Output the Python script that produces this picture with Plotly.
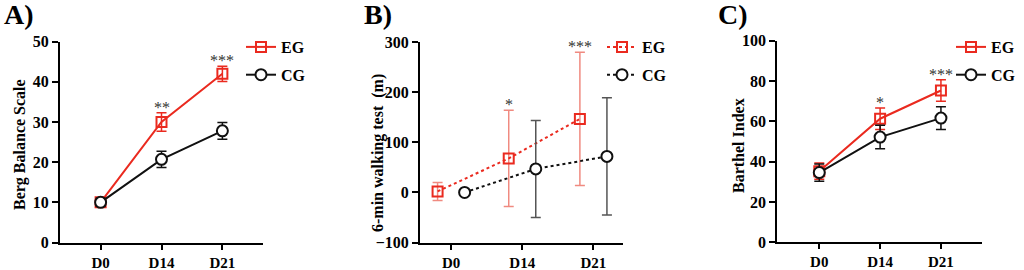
import plotly.graph_objects as go

categories = ["D0", "D14", "D21"]

# Panel A: Berg Balance Scale
bbs_eg = [10, 30, 42]
bbs_eg_err = [1.0, 2.3, 1.9]
bbs_cg = [10, 20.7, 27.8]
bbs_cg_err = [1.0, 2.0, 2.1]
bbs_sig = ["", "**", "***"]

# Panel B: 6-min walking test (m)
smwt_eg = [2, 68, 147]
smwt_eg_err = [18, 96, 133]
smwt_cg = [0, 47, 72]
smwt_cg_err = [0, 97, 117]
smwt_sig = ["", "*", "***"]

# Panel C: Barthel Index
bi_eg = [35.3, 61.3, 75.3]
bi_eg_err = [4.0, 5.3, 5.3]
bi_cg = [34.6, 52.2, 61.6]
bi_cg_err = [4.3, 5.8, 5.6]
bi_sig = ["", "*", "***"]

RED = "#EA2A1F"
RED_LIGHT = "#F08A80"
BLACK = "#111111"
GREY = "#555555"
FONT = "Liberation Serif"
W, H = 1024, 270

def px_x(a, b):
    return [a / W, b / W]

def px_y(top, bottom):
    return [(H - bottom) / H, (H - top) / H]

panels = [
    dict(name="A", eg=bbs_eg, ege=bbs_eg_err, cg=bbs_cg, cge=bbs_cg_err, sig=bbs_sig,
         dash="solid", egcol=RED, cgcol=BLACK, dodge=0.0,
         xd=px_x(60, 263), yd=px_y(41.7, 242.5), xr=[-0.667, 2.667], yr=[0, 50], dt=10,
         title="Berg Balance Scale", tpos=(20, 145), leg=(241, 30), letter=("A)", 2)),
    dict(name="B", eg=smwt_eg, ege=smwt_eg_err, cg=smwt_cg, cge=smwt_cg_err, sig=smwt_sig,
         dash="dot", egcol=RED_LIGHT, cgcol=GREY, dodge=0.19,
         xd=px_x(420, 623.3), yd=px_y(42.3, 242.5), xr=[-0.437, 2.42], yr=[-100, 300], dt=100,
         title="6-min walking test  (m)", tpos=(378, 153), leg=(602, 30), letter=("B)", 362)),
    dict(name="C", eg=bi_eg, ege=bi_eg_err, cg=bi_cg, cge=bi_cg_err, sig=bi_sig,
         dash="solid", egcol=RED, cgcol=BLACK, dodge=0.0,
         xd=px_x(777.3, 981.7), yd=px_y(40.7, 242.3), xr=[-0.69, 2.67], yr=[0, 100], dt=20,
         title="Barthel Index", tpos=(738, 146), leg=(951, 30), letter=("C)", 716)),
]

fig = go.Figure()
annotations = []
idx = list(range(len(categories)))
ytickfont = dict(family=FONT, size=16, color="black", weight="bold")
xtickfont = dict(family=FONT, size=15, color="black", weight="bold")

for i, p in enumerate(panels):
    n = "" if i == 0 else str(i + 1)
    xa, ya = "x" + n, "y" + n
    legname = "legend" + n
    x_eg = [k - p["dodge"] for k in idx]
    x_cg = [k + p["dodge"] for k in idx]
    fig.add_trace(go.Scatter(
        x=x_eg, y=p["eg"], xaxis=xa, yaxis=ya, name="EG", legend=legname, legendgroup=p["name"] + "eg",
        mode="lines+markers",
        line=dict(color=RED, width=2, dash=p["dash"]),
        marker=dict(symbol="square-open", size=10, color=RED, line=dict(width=2, color=RED)),
        error_y=dict(type="data", array=p["ege"], color=p["egcol"], thickness=1.5, width=5),
    ))
    fig.add_trace(go.Scatter(
        x=x_cg, y=p["cg"], xaxis=xa, yaxis=ya, name="CG", legend=legname, legendgroup=p["name"] + "cg",
        mode="lines+markers",
        line=dict(color=BLACK, width=2, dash=p["dash"]),
        marker=dict(symbol="circle", size=11, color="white", line=dict(width=2, color=BLACK)),
        error_y=dict(type="data", array=p["cge"], color=p["cgcol"], thickness=1.5, width=5),
    ))
    fig.update_layout(**{
        "xaxis" + n: dict(domain=p["xd"], range=p["xr"], tickvals=idx, ticktext=categories,
                          showline=True, linecolor="black", linewidth=2, ticks="outside",
                          ticklen=5, tickwidth=2, tickcolor="black", showgrid=False, zeroline=False,
                          anchor=ya, tickfont=xtickfont),
        "yaxis" + n: dict(domain=p["yd"], range=p["yr"], dtick=p["dt"],
                          showline=True, linecolor="black", linewidth=2, ticks="outside",
                          ticklen=6, tickwidth=2, tickcolor="black", showgrid=False, zeroline=False,
                          anchor=xa, tickfont=ytickfont),
        legname: dict(x=p["leg"][0] / W, y=(H - p["leg"][1]) / H, xanchor="left", yanchor="top",
                      bgcolor="rgba(0,0,0,0)", font=dict(family=FONT, size=16, color="black", weight="bold"),
                      tracegroupgap=4, itemwidth=30),
    })
    for k in idx:
        if p["sig"][k]:
            annotations.append(dict(
                x=x_eg[k], y=p["eg"][k] + p["ege"][k], xref=xa, yref=ya,
                text=p["sig"][k], showarrow=False, yanchor="bottom", yshift=-5,
                font=dict(family=FONT, size=16, color="#333333")))
    annotations.append(dict(
        x=p["letter"][1] / W, y=1.0, xref="paper", yref="paper", xanchor="left", yanchor="top",
        yshift=3, text=p["letter"][0], showarrow=False,
        font=dict(family=FONT, size=28, color="black", weight="bold")))
    annotations.append(dict(
        x=p["tpos"][0] / W, y=(H - p["tpos"][1]) / H, xref="paper", yref="paper",
        xanchor="center", yanchor="middle", textangle=-90, text=p["title"], showarrow=False,
        font=dict(family=FONT, size=16, color="black", weight="bold")))

fig.update_layout(
    width=W, height=H, margin=dict(l=0, r=0, t=0, b=0, autoexpand=False),
    paper_bgcolor="white", plot_bgcolor="white",
    annotations=annotations, showlegend=True,
)

fig.write_html("out.html", config={"displayModeBar": False},
               post_script="document.body.style.margin='0';document.body.style.overflow='hidden';")
